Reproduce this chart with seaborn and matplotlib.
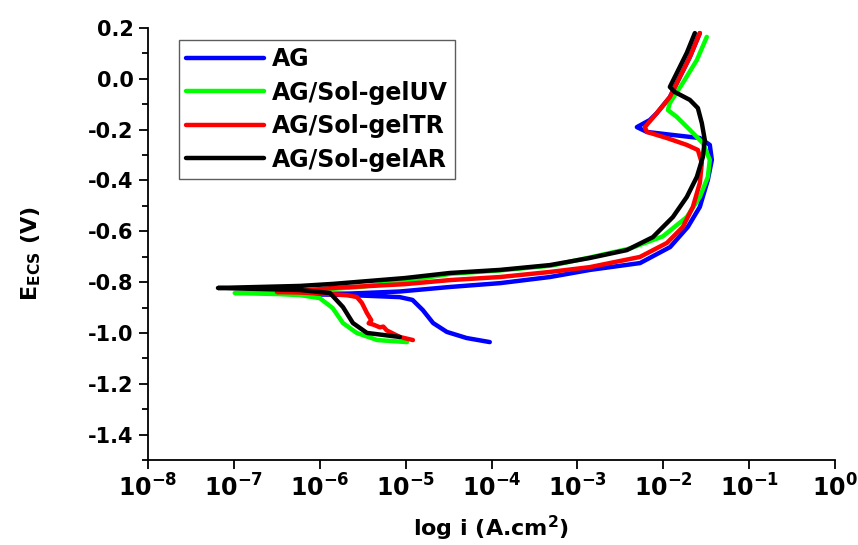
import numpy as np
import pandas as pd
import matplotlib
matplotlib.use("Agg")
import matplotlib.pyplot as plt
from matplotlib.ticker import MultipleLocator, LogLocator, NullLocator, FixedLocator, FixedFormatter
import seaborn as sns

# polarisation curves, log10(i) and E (V vs ECS)
# each curve: cathodic end -> Ecorr -> anodic end
ag_log_i = [-4.02, -4.29, -4.52, -4.68, -4.80, -4.92, -5.07, -5.65, -6.2, -5.65, -5.07, -4.48,
            -3.90, -3.32, -2.855, -2.27, -1.92, -1.714, -1.574, -1.481, -1.434, -1.458, -1.574,
            -1.888, -2.191, -2.307, -2.156, -2.075, -1.923, -1.807, -1.690, -1.574]
ag_E = [-1.036, -1.020, -0.996, -0.961, -0.910, -0.870, -0.859, -0.851, -0.847, -0.845, -0.837,
        -0.819, -0.804, -0.780, -0.752, -0.725, -0.662, -0.583, -0.504, -0.398, -0.319, -0.260,
        -0.233, -0.221, -0.209, -0.190, -0.162, -0.135, -0.072, 0.007, 0.086, 0.180]

uv_log_i = [-4.985, -5.33, -5.57, -5.73, -5.85, -6.00, -6.23, -6.5, -6.99, -6.5, -6.0, -5.5,
            -5.0, -4.47, -3.90, -3.30, -2.855, -2.39, -2.005, -1.726, -1.574, -1.481, -1.458,
            -1.539, -1.690, -1.842, -1.946, -1.923, -1.772, -1.609, -1.493]
uv_E = [-1.036, -1.028, -1.000, -0.961, -0.902, -0.863, -0.851, -0.847, -0.843, -0.838, -0.830,
        -0.818, -0.795, -0.767, -0.754, -0.735, -0.703, -0.668, -0.620, -0.544, -0.465, -0.386,
        -0.319, -0.253, -0.201, -0.150, -0.123, -0.095, -0.016, 0.074, 0.165]

tr_log_i = [-4.915, -5.066, -5.22, -5.26, -5.30, -5.37, -5.43, -5.40, -5.45, -5.509, -5.567,
            -5.683, -6.0, -6.23, -6.498, -6.2, -5.85, -5.008, -4.484, -3.902, -3.320, -2.855,
            -2.272, -1.958, -1.772, -1.655, -1.574, -1.551, -1.597, -1.726, -1.958, -2.191,
            -2.214, -2.075, -1.923, -1.807, -1.690, -1.574]
tr_E = [-1.028, -1.016, -0.990, -0.975, -0.978, -0.968, -0.962, -0.950, -0.922, -0.882, -0.859,
        -0.851, -0.845, -0.841, -0.839, -0.834, -0.823, -0.808, -0.792, -0.780, -0.760, -0.741,
        -0.701, -0.646, -0.583, -0.504, -0.410, -0.331, -0.280, -0.260, -0.233, -0.209, -0.190,
        -0.135, -0.072, 0.007, 0.086, 0.180]

ar_log_i = [-5.066, -5.450, -5.614, -5.730, -5.881, -6.23, -6.70, -7.185, -6.70, -6.23, -5.846,
            -5.008, -4.484, -3.902, -3.320, -2.855, -2.424, -2.121, -1.888, -1.726, -1.609,
            -1.539, -1.516, -1.551, -1.597, -1.690, -1.865, -1.923, -1.842, -1.726, -1.632]
ar_E = [-1.016, -1.000, -0.961, -0.898, -0.843, -0.831, -0.827, -0.823, -0.819, -0.815, -0.807,
        -0.784, -0.764, -0.752, -0.733, -0.705, -0.674, -0.623, -0.544, -0.465, -0.386, -0.308,
        -0.241, -0.174, -0.115, -0.083, -0.052, -0.032, 0.023, 0.102, 0.180]

labels = ["AG", "AG/Sol-gelUV", "AG/Sol-gelTR", "AG/Sol-gelAR"]
colors = ["#0000ff", "#00ff00", "#ff0000", "#000000"]

e_ticks = [-1.4, -1.2, -1.0, -0.8, -0.6, -0.4, -0.2, 0.0, 0.2]
e_tick_labels = ["-1.4", "-1.2", "-1.0", "-0.8", "-0.6", "-0.4", "-0.2", "0.0", "0.2"]

sns.set_style("ticks")
plt.rcParams["font.family"] = ["DejaVu Sans"]
plt.rcParams["font.weight"] = "bold"
plt.rcParams["axes.unicode_minus"] = False
plt.rcParams["mathtext.fontset"] = "dejavusans"
for key in ["text.color", "axes.labelcolor", "xtick.color", "ytick.color", "axes.edgecolor"]:
    plt.rcParams[key] = "black"

fig = plt.figure(figsize=(8.58, 5.45), dpi=100)
ax = fig.add_axes([148 / 858, 85 / 545, 687 / 858, 432 / 545])

curves = [(ag_log_i, ag_E), (uv_log_i, uv_E), (tr_log_i, tr_E), (ar_log_i, ar_E)]
for (li, e), lab, col in zip(curves, labels, colors):
    df = pd.DataFrame({"i": 10 ** np.array(li), "E": e})
    sns.lineplot(data=df, x="i", y="E", sort=False, estimator=None, color=col,
                 lw=3.2, label=lab, ax=ax, solid_capstyle="round", solid_joinstyle="round")

ax.set_xscale("log")
ax.set_xlim(1e-8, 1)
ax.set_ylim(-1.5, 0.2)
ax.xaxis.set_major_locator(LogLocator(base=10, numticks=20))
ax.xaxis.set_minor_locator(NullLocator())
ax.yaxis.set_major_locator(FixedLocator(e_ticks))
ax.yaxis.set_major_formatter(FixedFormatter(e_tick_labels))
ax.yaxis.set_minor_locator(MultipleLocator(0.1))

sns.despine(ax=ax)
for s in ["left", "bottom"]:
    ax.spines[s].set_linewidth(1.3)
    ax.spines[s].set_color("black")
ax.tick_params(axis="both", which="major", direction="out", length=6.5, width=1.3, color="black")
ax.tick_params(axis="y", which="minor", direction="out", length=4, width=1.3, color="black")
ax.tick_params(axis="x", labelsize=17, pad=4, labelcolor="black")
ax.tick_params(axis="y", labelsize=15, pad=4, labelcolor="black")
for t in ax.get_xticklabels() + ax.get_yticklabels():
    t.set_fontweight("bold")

ax.set_xlabel("log i (A.cm$^{\\mathbf{2}}$)", fontsize=16, fontweight="bold", color="black")
ax.set_ylabel("E$_{\\mathbf{ECS}}$ (V)", fontsize=16, fontweight="bold", color="black")
ax.xaxis.set_label_coords(0.5, -0.125)
ax.yaxis.set_label_coords(-0.153, 0.477)

leg = ax.legend(loc="upper left", bbox_to_anchor=(0.045, 0.972), borderaxespad=0,
                fancybox=False, frameon=True, handlelength=3.3, handletextpad=0.35,
                labelspacing=0.4, borderpad=0.3, prop={"size": 17, "weight": "bold"},
                labelcolor="black")
leg.get_frame().set_edgecolor("#333333")
leg.get_frame().set_linewidth(1.0)

fig.savefig("out.png", dpi=100)
